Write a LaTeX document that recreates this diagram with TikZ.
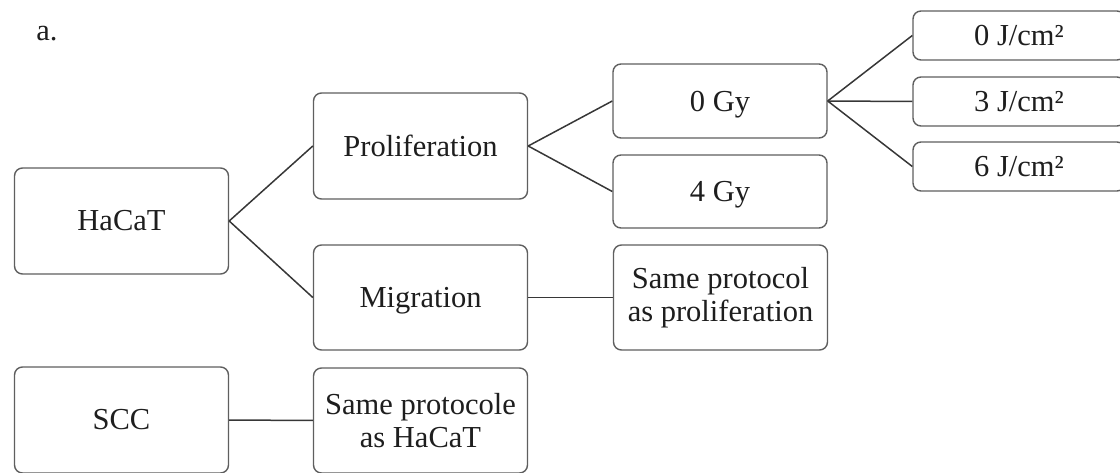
\documentclass[tikz,border=0pt]{standalone}
\usepackage{fontspec}
\setmainfont{Liberation Serif}
\usepackage{tikz}
\usetikzlibrary{positioning}
\definecolor{boxgray}{RGB}{95,95,95}
\definecolor{linkgray}{RGB}{55,55,55}
\definecolor{darktext}{RGB}{30,30,30}

\begin{document}
\begin{tikzpicture}[
            x=1pt, y=-1pt,
            every node/.style={font=\fontsize{30.5}{33}\selectfont, text=darktext},
            tallbox/.style={rectangle, rounded corners=8pt, draw=boxgray, line width=1.4pt, fill=white,
                            minimum width=214pt, minimum height=106pt, align=center, inner sep=2pt},
            dosebox/.style={rectangle, rounded corners=8pt, draw=boxgray, line width=1.4pt, fill=white,
                            minimum width=214pt, minimum height=74pt, text depth=0pt},
            uvbox/.style={rectangle, rounded corners=8pt, draw=boxgray, line width=1.4pt, fill=white,
                          minimum width=212pt, minimum height=49pt, text depth=0pt},
            link/.style={line width=1.5pt, color=linkgray}
        ]
        \useasboundingbox (0,0) rectangle (1120,473);

        \node at (47,34) (label) {a.};

        % cell lines
        \node[tallbox] (hacat) at (121.5,221) {HaCaT};
        \node[tallbox] (scc) at (121.5,420) {SCC};

        % assays
        \node[tallbox] (prolif) at (420.5,146) {Proliferation};
        \node[tallbox, minimum height=105pt, text depth=0pt] (migr) at (420.5,297.5) {Migration};
        \node[tallbox, minimum height=105pt] (samehacat) at (420.5,420.5) {Same protocole\\as HaCaT};

        % irradiation
        \node[dosebox] (gy0) at (720,101) {0 Gy};
        \node[dosebox, minimum height=73pt] (gy4) at (720,191.5) {4 Gy};
        \node[tallbox, minimum height=105pt] (sameprolif) at (720.5,297.5) {Same protocol\\as proliferation};

        % uv doses
        \node[uvbox] (uv0) at (1019,35.5) {0 J/cm²};
        \node[uvbox] (uv3) at (1019,101.5) {3 J/cm²};
        \node[uvbox] (uv6) at (1019,166.5) {6 J/cm²};

        \draw[link] (hacat.east) -- (prolif.west);
        \draw[link] (hacat.east) -- (migr.west);
        \draw[link] (scc) -- (samehacat);
        \draw[link] (prolif.east) -- (gy0.west);
        \draw[link] (prolif.east) -- (gy4.west);
        \draw[link] (migr) -- (sameprolif);
        \draw[link] (gy0.east) -- (uv0.west);
        \draw[link] (gy0.east) -- (uv3.west);
        \draw[link] (gy0.east) -- (uv6.west);

        \end{tikzpicture}
\end{document}
